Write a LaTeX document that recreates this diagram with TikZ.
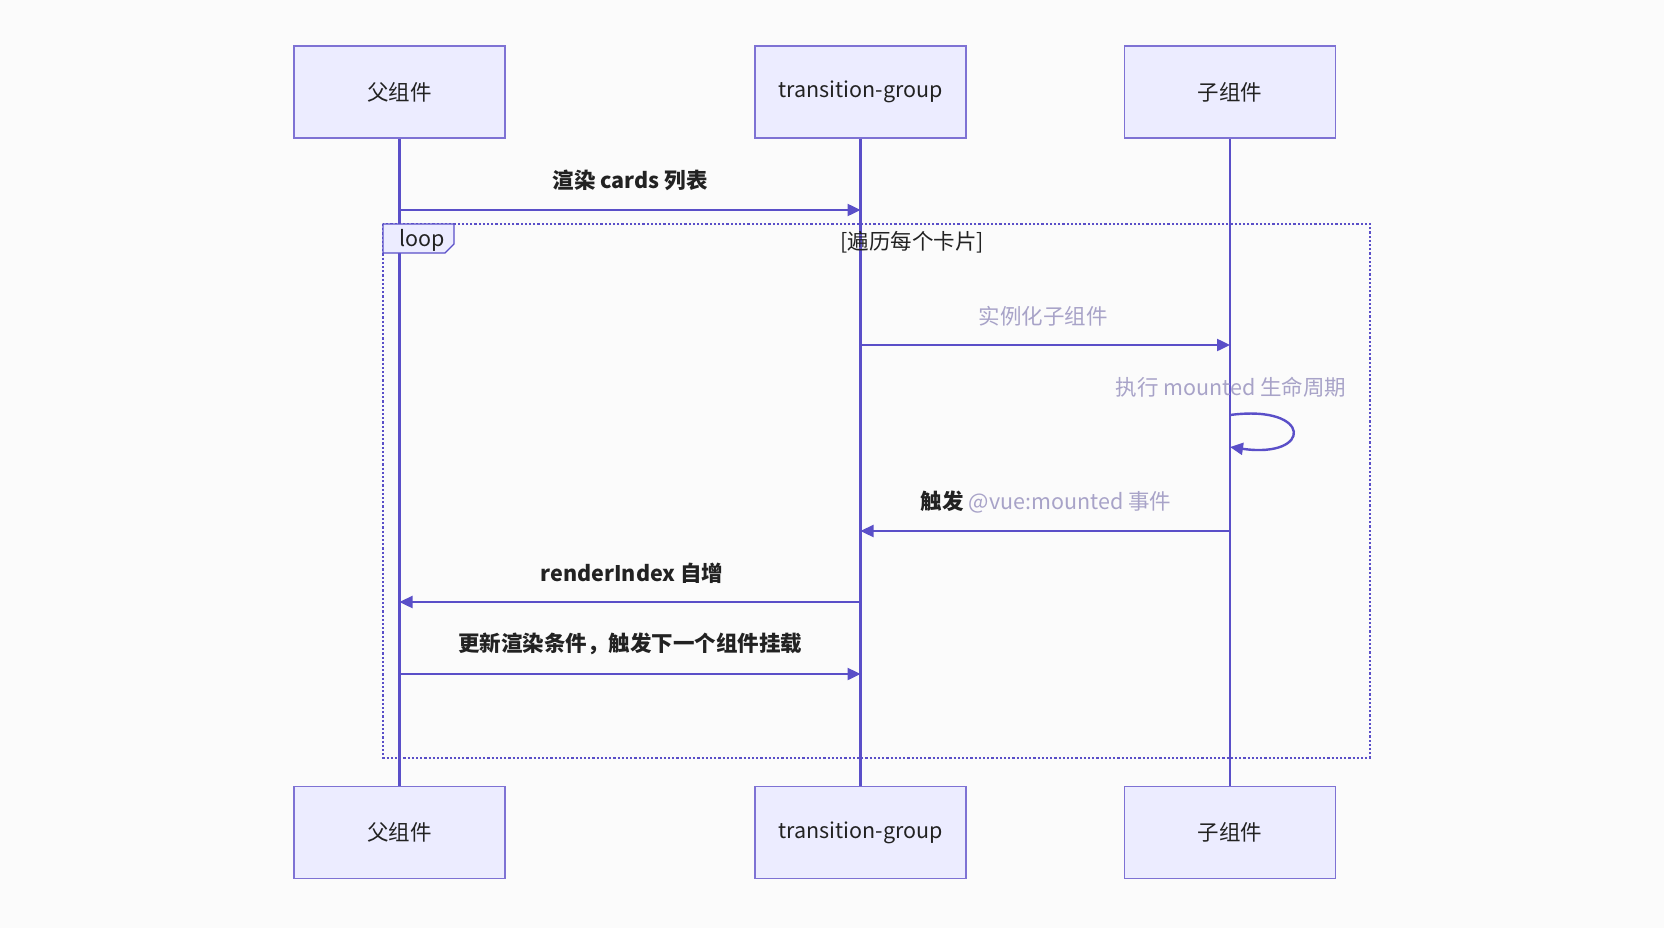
\documentclass[tikz,border=0pt]{standalone}
\usepackage{fontspec}
\setmainfont{Noto Sans CJK SC}
\usetikzlibrary{arrows.meta}
\definecolor{bfill}{HTML}{ECECFF}
\definecolor{bdraw}{HTML}{7E72D4}
\definecolor{ln}{HTML}{5A4FC8}
\definecolor{gr}{HTML}{A8A3C8}
\definecolor{dk}{HTML}{222222}
\begin{document}
\begin{tikzpicture}[x=1pt,y=-1pt,
  actor/.style={draw=bdraw,line width=1.6pt,fill=bfill,minimum width=211pt,minimum height=92pt,font=\fontsize{21.5}{24}\selectfont,text=dk},
  life/.style={ln,line width=2.2pt},
  msg/.style={ln,line width=2.4pt,-{Triangle[length=13pt,width=12pt]}},
  lbl/.style={font=\fontsize{21.5}{24}\selectfont,text=dk},
  blbl/.style={font=\fontsize{21.5}{24}\selectfont\bfseries,text=dk},
  glbl/.style={font=\fontsize{21.5}{24}\selectfont,text=gr}]
\fill[white!97!gray] (0,0) rectangle (1664,928);
\useasboundingbox (0,0) rectangle (1664,928);
\node[actor] (a1) at (399.5,92) {父组件};
\node[actor] (a2) at (860.5,92) {transition-group};
\node[actor] (a3) at (1230,92) {子组件};
\node[actor] (b1) at (399.5,832.5) {父组件};
\node[actor] (b2) at (860.5,832.5) {transition-group};
\node[actor] (b3) at (1230,832.5) {子组件};
\draw[life] (a1) -- (b1);
\draw[life] (a2) -- (b2);
\draw[life] (a3) -- (b3);
% loop frame
\draw[ln,line width=2.2pt,dotted] (383,224) rectangle (1370,758);
\draw[ln,line width=1.2pt,fill=bfill] (383,224) -- (454,224) -- (454,244) -- (445,253) -- (383,253) -- cycle;
\node[lbl,anchor=west] (lp) at (396,240) {loop};
\node[lbl] (cond) at (912,242) {[遍历每个卡片]};
% messages
\coordinate (m1s) at (399.5,210); \coordinate (m1e) at (860.5,210);
\draw[msg] (m1s) -- (m1e);
\node[blbl] (t1) at (630,180) {渲染 cards 列表};
\coordinate (m2s) at (860.5,345); \coordinate (m2e) at (1230,345);
\draw[msg] (m2s) -- (m2e);
\node[glbl] (t2) at (1043,316) {实例化子组件};
\node[glbl] (t3) at (1231,387) {执行 mounted 生命周期};
\coordinate (s1) at (1230,415); \coordinate (s2) at (1230,447);
\draw[msg] (s1) .. controls (1313,404) and (1313,459) .. (s2);
\coordinate (m4s) at (1230,531); \coordinate (m4e) at (860.5,531);
\draw[msg] (m4s) -- (m4e);
\node[glbl] (t4) at (1046,502) {\textcolor{dk}{\bfseries 触发} @vue:mounted 事件};
\coordinate (m5s) at (860.5,602); \coordinate (m5e) at (399.5,602);
\draw[msg] (m5s) -- (m5e);
\node[blbl] (t5) at (632,573) {renderIndex 自增};
\coordinate (m6s) at (399.5,674); \coordinate (m6e) at (860.5,674);
\draw[msg] (m6s) -- (m6e);
\node[blbl] (t6) at (630,644) {更新渲染条件，触发下一个组件挂载};
\end{tikzpicture}
\end{document}
